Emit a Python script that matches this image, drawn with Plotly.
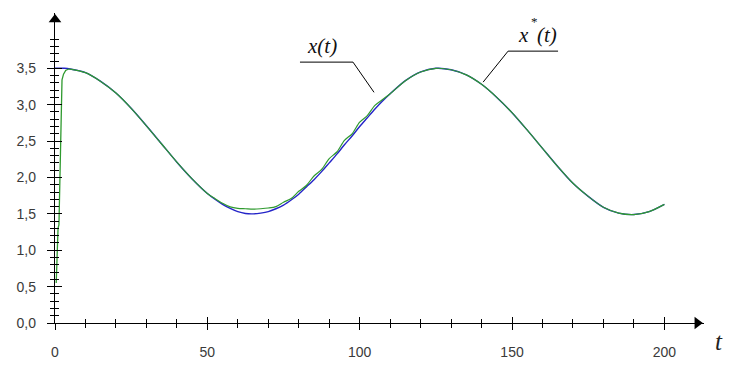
import plotly.graph_objects as go

# reference trajectory x*(t) (blue)
t_ref = [0, 3, 5, 10, 15, 20, 25, 30, 35, 40, 45, 50, 52.5, 55, 57.5, 60, 62.5, 65, 67.5, 70,
         72.5, 75, 77.5, 80, 82.5, 85, 87.5, 90, 92.5, 95, 97.5, 100, 102.5, 105, 107.5, 110,
         115, 120, 125, 130, 135, 140, 145, 150, 155, 160, 165, 170, 175, 180, 185, 190, 195, 200]
x_ref = [3.50, 3.50, 3.49, 3.44, 3.32, 3.16, 2.95, 2.71, 2.46, 2.21, 1.98, 1.78, 1.70, 1.63, 1.575, 1.53, 1.505, 1.50, 1.51, 1.53,
         1.57, 1.62, 1.69, 1.77, 1.87, 1.97, 2.08, 2.20, 2.32, 2.45, 2.57, 2.70, 2.82, 2.94, 3.05, 3.15,
         3.33, 3.45, 3.50, 3.48, 3.41, 3.28, 3.10, 2.89, 2.65, 2.40, 2.15, 1.92, 1.74, 1.59, 1.51, 1.49, 1.53, 1.63]

# actual trajectory x(t) (green): start-up transient
t_start = [0.4, 0.7, 1.0, 1.3, 1.6, 1.8, 2.0, 2.3, 2.8, 3.5, 4.5]
x_start = [0.55, 0.9, 1.3, 1.35, 2.1, 2.7, 2.75, 3.34, 3.42, 3.47, 3.49]

# actual trajectory x(t) (green): main part
t_act = [4.5, 5, 10, 15, 20, 25, 30, 35, 40, 45, 50, 52.5, 55, 57.5, 60, 62.5, 65, 67.5, 70,
         72.5, 75, 77.5, 80, 82.5, 85, 87.5, 90, 92.5, 95, 97.5, 100, 102.5, 105, 107.5, 110,
         115, 120, 125, 130, 135, 140, 145, 150, 155, 160, 165, 170, 175, 180, 185, 190, 195, 200]
x_act = [3.49, 3.49, 3.44, 3.32, 3.16, 2.95, 2.71, 2.46, 2.21, 1.98, 1.78, 1.71, 1.645, 1.595, 1.575, 1.57, 1.565, 1.57, 1.58,
         1.60, 1.66, 1.71, 1.81, 1.89, 2.02, 2.11, 2.26, 2.35, 2.51, 2.60, 2.76, 2.85, 2.99, 3.07, 3.15,
         3.33, 3.45, 3.50, 3.48, 3.41, 3.28, 3.10, 2.89, 2.65, 2.40, 2.15, 1.92, 1.74, 1.59, 1.51, 1.49, 1.53, 1.63]

x_major = [0, 50, 100, 150, 200]
x_minor = [10, 20, 30, 40, 60, 70, 80, 90, 110, 120, 130, 140, 160, 170, 180, 190]
y_major = [0.0, 0.5, 1.0, 1.5, 2.0, 2.5, 3.0, 3.5]
y_labels = ["0,0", "0,5", "1,0", "1,5", "2,0", "2,5", "3,0", "3,5"]
y_minor = [0.1, 0.2, 0.3, 0.4, 0.6, 0.7, 0.8, 0.9, 1.1, 1.2, 1.3, 1.4, 1.6, 1.7, 1.8, 1.9,
           2.1, 2.2, 2.3, 2.4, 2.6, 2.7, 2.8, 2.9, 3.1, 3.2, 3.3, 3.4, 3.6, 3.7, 3.8, 3.9]

BLUE = "#2424c8"
GREEN = "#2f9a2f"
X_MAX = 213
Y_MAX = 4.26

fig = go.Figure()
fig.add_trace(go.Scatter(x=t_ref, y=x_ref, mode="lines",
                         line=dict(color=BLUE, width=1.4, shape="spline", smoothing=0.8),
                         showlegend=False, hoverinfo="skip"))
fig.add_trace(go.Scatter(x=t_start, y=x_start, mode="lines",
                         line=dict(color=GREEN, width=1.3),
                         showlegend=False, hoverinfo="skip"))
fig.add_trace(go.Scatter(x=t_act, y=x_act, mode="lines",
                         line=dict(color=GREEN, width=1.2, shape="spline", smoothing=0.8),
                         showlegend=False, hoverinfo="skip"))
# arrowheads at the ends of the axes
fig.add_trace(go.Scatter(x=[X_MAX - 2.2], y=[0], mode="markers", cliponaxis=False,
                         marker=dict(symbol="triangle-right", size=11, color="black"),
                         showlegend=False, hoverinfo="skip"))
fig.add_trace(go.Scatter(x=[0], y=[Y_MAX - 0.09], mode="markers", cliponaxis=False,
                         marker=dict(symbol="triangle-up", size=11, color="black"),
                         showlegend=False, hoverinfo="skip"))
# invisible trace to activate overlay axes (for crossing ticks)
fig.add_trace(go.Scatter(x=[0], y=[0], xaxis="x2", yaxis="y2", mode="markers",
                         marker=dict(opacity=0), showlegend=False, hoverinfo="skip"))

tickfont = dict(family="Liberation Sans, Arial", size=14, color="#3a3a3a")
common = dict(showgrid=False, zeroline=False, tickcolor="black",
              tickwidth=1.2, automargin=False)

# page body has an 8px margin: figure is sized/placed to compensate
fig.update_layout(
    width=728, height=361,
    margin=dict(l=47, r=32, t=5, b=46, autoexpand=False),
    paper_bgcolor="white", plot_bgcolor="white",
    xaxis=dict(range=[0, X_MAX], tickmode="array", tickvals=x_major,
               ticktext=[str(v) for v in x_major], ticks="outside", ticklen=6,
               ticklabelstandoff=10, tickfont=tickfont,
               showline=True, linecolor="black", linewidth=1.3,
               minor=dict(tickmode="array", tickvals=x_minor, ticks="outside", ticklen=4,
                          tickcolor="black", tickwidth=1.2, showgrid=False),
               **common),
    yaxis=dict(range=[0, Y_MAX], tickmode="array", tickvals=y_major, ticktext=y_labels,
               ticks="outside", ticklen=7, ticklabelstandoff=8, tickfont=tickfont,
               showline=True, linecolor="black", linewidth=1.3,
               minor=dict(tickmode="array", tickvals=y_minor, ticks="outside", ticklen=4,
                          tickcolor="black", tickwidth=1.2, showgrid=False),
               **common),
    xaxis2=dict(range=[0, X_MAX], overlaying="x", side="bottom", anchor="y2",
                tickmode="array", tickvals=x_major[1:], ticks="inside", ticklen=6,
                showticklabels=False, showline=False,
                minor=dict(tickmode="array", tickvals=x_minor, ticks="inside", ticklen=4,
                           tickcolor="black", tickwidth=1.2, showgrid=False),
                **common),
    yaxis2=dict(range=[0, Y_MAX], overlaying="y", side="left", anchor="x2",
                tickmode="array", tickvals=y_major[1:], ticks="inside", ticklen=7,
                showticklabels=False, showline=False,
                minor=dict(tickmode="array", tickvals=y_minor, ticks="inside", ticklen=4,
                           tickcolor="black", tickwidth=1.2, showgrid=False),
                **common),
)

# axis label t (paper coordinates, right of the arrow)
fig.add_annotation(x=(725 - 55) / 649, y=-(357 - 323) / 310, xref="paper", yref="paper",
                   text="<i>t</i>", showarrow=False,
                   font=dict(family="Liberation Serif, Times New Roman", size=25, color="#222"))

# leader lines and curve labels
line_style = dict(color="black", width=1)
fig.add_shape(type="line", x0=80.4, y0=3.585, x1=97.8, y1=3.585, xref="x", yref="y", line=line_style)
fig.add_shape(type="line", x0=97.8, y0=3.585, x1=104.7, y1=3.17, xref="x", yref="y", line=line_style)
fig.add_shape(type="line", x0=148.7, y0=3.736, x1=165.1, y1=3.736, xref="x", yref="y", line=line_style)
fig.add_shape(type="line", x0=148.7, y0=3.736, x1=140.5, y1=3.31, xref="x", yref="y", line=line_style)

labfont = dict(family="Liberation Serif, Times New Roman", size=21, color="#111")
fig.add_annotation(x=87.6, y=3.80, xref="x", yref="y", text="<i>x(t)</i>", showarrow=False, font=labfont)
# x*(t): "x", raised "*", "(t)" placed side by side
fig.add_annotation(x=155.9, y=3.96, xref="x", yref="y", xanchor="right", text="<i>x</i>",
                   showarrow=False, borderpad=0, font=labfont)
fig.add_annotation(x=155.9, y=4.02, xref="x", yref="y", xanchor="left", yanchor="bottom", text="*",
                   showarrow=False, borderpad=0,
                   font=dict(family="Liberation Serif, Times New Roman", size=13, color="#111"))
fig.add_annotation(x=157.9, y=3.96, xref="x", yref="y", xanchor="left", text="<i>(t)</i>",
                   showarrow=False, borderpad=0, font=labfont)

fig.write_html("out.html")
